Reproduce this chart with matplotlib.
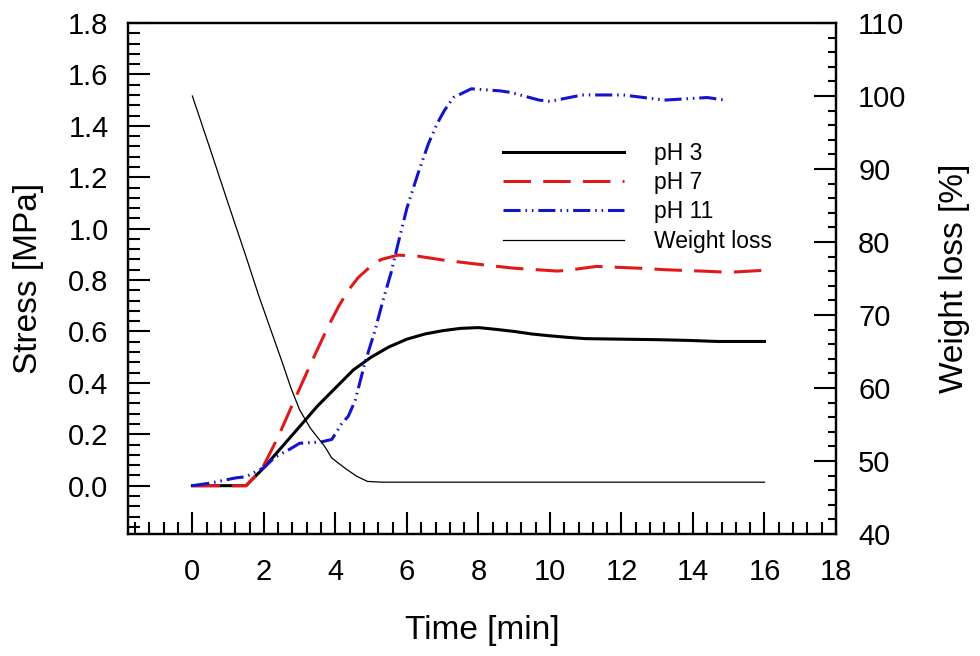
import matplotlib
matplotlib.use("Agg")
import matplotlib.pyplot as plt
from matplotlib.ticker import MultipleLocator, FormatStrFormatter
from matplotlib.lines import Line2D

plt.rcParams['font.family'] = ['Liberation Sans', 'DejaVu Sans']

# ---- data ----
t_ph3 = [0, 1.5, 2.0, 2.5, 3.0, 3.5, 4.0, 4.5, 5.0, 5.5, 6.0, 6.5, 7.0, 7.5, 8.0,
         8.5, 9.0, 9.5, 10.0, 10.5, 11.0, 12.0, 13.0, 13.9, 14.7, 16.0]
ph3 = [0, 0.0, 0.07, 0.15, 0.23, 0.31, 0.38, 0.45, 0.50, 0.54, 0.57, 0.59, 0.603,
       0.612, 0.615, 0.608, 0.60, 0.59, 0.583, 0.577, 0.572, 0.57, 0.568, 0.565,
       0.561, 0.561]

t_ph7 = [0, 1.5, 1.95, 2.4, 2.78, 3.33, 3.8, 4.1, 4.36, 4.64, 5.0, 5.28, 5.75, 6.3,
         7.05, 8.2, 9.0, 10.2, 10.5, 11.3, 12.5, 13.25, 14.4, 15.0, 16.0]
ph7 = [0, 0.0, 0.066, 0.19, 0.31, 0.48, 0.62, 0.70, 0.76, 0.81, 0.855, 0.88, 0.897,
       0.893, 0.877, 0.858, 0.846, 0.835, 0.838, 0.853, 0.846, 0.84, 0.834, 0.83,
       0.838]

t_ph11 = [0, 0.5, 1.2, 1.5, 2.0, 2.3, 2.7, 3.0, 3.6, 3.9, 4.17, 4.36, 4.55, 4.83,
          5.1, 5.33, 5.56, 5.75, 6.0, 6.3, 6.6, 6.85, 7.05, 7.3, 7.8, 8.6, 8.9, 9.7,
          10.0, 10.9, 12.05, 13.2, 14.4, 14.9]
ph11 = [0, 0.01, 0.03, 0.035, 0.07, 0.11, 0.14, 0.165, 0.17, 0.18, 0.24, 0.27,
        0.33, 0.48, 0.60, 0.72, 0.83, 0.94, 1.08, 1.21, 1.33, 1.41, 1.46, 1.51, 1.544,
        1.536, 1.53, 1.50, 1.495, 1.52, 1.52, 1.50, 1.51, 1.50]

t_w = [0, 0.5, 1.0, 1.5, 1.86, 2.5, 2.75, 3.0, 3.3, 3.7, 3.9, 4.3, 4.6, 4.9, 5.3, 16.0]
weight = [100, 92.7, 85.3, 78.0, 72.6, 63.7, 60.1, 57.0, 54.5, 52.0, 50.4, 48.9,
          47.9, 47.2, 47.1, 47.1]

labels = ['pH 3', 'pH 7', 'pH 11', 'Weight loss']

# ---- figure ----
fig = plt.figure(figsize=(9.8, 6.56), dpi=100)
ax = fig.add_axes([128/980, 1-534/656, (836-128)/980, (534-23)/656])
ax2 = ax.twinx()

red = '#e01a1a'
blue = '#1414cc'
ls7 = (0, (9, 4))
ls11 = (0, (5.6, 1.6, 0.5, 1.6, 0.5, 1.6))
ax.plot(t_ph3, ph3, color='black', lw=2.2)
ax.plot(t_ph7, ph7, color=red, lw=2.2, linestyle=ls7)
ax.plot(t_ph11, ph11, color=blue, lw=2.2, linestyle=ls11)
ax2.plot(t_w, weight, color='black', lw=0.9)

ax.set_xlim(-1.8, 18)
ax.set_ylim(-0.188, 1.8)
ax2.set_ylim(40, 110)

ax.xaxis.set_major_locator(MultipleLocator(2))
ax.xaxis.set_minor_locator(MultipleLocator(0.4))
ax.yaxis.set_major_locator(MultipleLocator(0.2))
ax.yaxis.set_minor_locator(MultipleLocator(0.04))
ax.yaxis.set_major_formatter(FormatStrFormatter('%.1f'))
ax2.yaxis.set_major_locator(MultipleLocator(10))
ax2.yaxis.set_minor_locator(MultipleLocator(2))

for a in (ax, ax2):
    for s in a.spines.values():
        s.set_linewidth(1.6)

ax.tick_params(axis='both', which='both', direction='in', width=1.5,
               top=False, right=False, labelsize=21)
ax.tick_params(axis='both', which='major', length=16)
ax.tick_params(axis='both', which='minor', length=8.5)
ax.tick_params(axis='x', which='major', pad=17)
ax.tick_params(axis='y', which='major', pad=14)
ax2.tick_params(axis='y', which='both', direction='in', width=1.5, labelsize=21)
ax2.tick_params(axis='y', which='major', length=16, pad=16)
ax2.tick_params(axis='y', which='minor', length=6)

ax.set_xlabel('Time [min]', fontsize=24)
ax.set_ylabel('Stress [MPa]', fontsize=24)
ax2.set_ylabel('Weight loss [%]', fontsize=24)
ax.xaxis.set_label_coords(0.5, -0.159)
ax.yaxis.set_label_coords(-0.119, 0.5)
ax2.yaxis.set_label_coords(1.145, 0.5)

handles = [Line2D([], [], color='black', lw=2.2),
           Line2D([], [], color=red, lw=2.2, linestyle=ls7),
           Line2D([], [], color=blue, lw=2.2, linestyle=ls11),
           Line2D([], [], color='black', lw=0.9)]
leg = ax2.legend(handles, labels, loc='upper left',
                 bbox_to_anchor=(503/980, 1-142/656), bbox_transform=fig.transFigure,
                 frameon=False, fontsize=16.5, handlelength=5.3, handletextpad=1.3,
                 labelspacing=0.27, borderpad=0, borderaxespad=0)

fig.savefig('out.png', dpi=100)
